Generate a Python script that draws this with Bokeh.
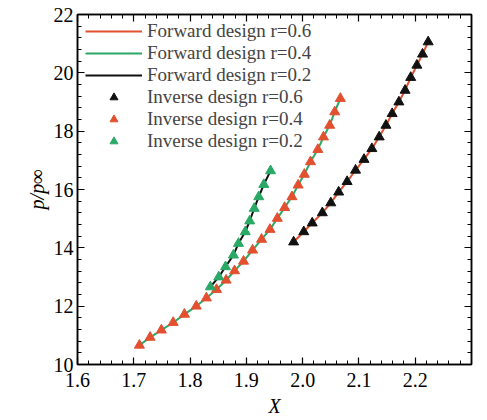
from bokeh.plotting import figure
from bokeh.models import (Legend, LegendItem, LinearAxis, SingleIntervalTicker,
                          PrintfTickFormatter, Range1d)
from bokeh.embed import file_html
from bokeh.resources import INLINE

# ---- data ----
x_r06 = [1.984, 2.002, 2.017, 2.035, 2.050, 2.064, 2.079, 2.094, 2.109, 2.123,
         2.136, 2.148, 2.159, 2.171, 2.182, 2.192, 2.203, 2.213, 2.223]
y_r06 = [14.20, 14.55, 14.85, 15.20, 15.54, 15.91, 16.27, 16.66, 17.03, 17.40,
         17.80, 18.20, 18.60, 19.00, 19.40, 19.84, 20.26, 20.64, 21.06]

x_r04 = [1.710, 1.729, 1.749, 1.770, 1.790, 1.811, 1.829, 1.847, 1.864, 1.879,
         1.895, 1.911, 1.927, 1.942, 1.955, 1.968, 1.981, 1.992, 2.003, 2.014,
         2.027, 2.037, 2.048, 2.057, 2.067]
y_r04 = [10.66, 10.93, 11.18, 11.44, 11.72, 12.00, 12.28, 12.57, 12.89, 13.21,
         13.54, 13.92, 14.29, 14.63, 15.01, 15.38, 15.75, 16.15, 16.52, 16.95,
         17.37, 17.80, 18.20, 18.66, 19.12]

x_r02 = [1.836, 1.851, 1.863, 1.877, 1.886, 1.898, 1.906, 1.914, 1.922, 1.931, 1.943]
y_r02 = [12.66, 13.00, 13.35, 13.75, 14.15, 14.55, 14.92, 15.35, 15.75, 16.17, 16.64]

forward_labels = ["Forward design r=0.6", "Forward design r=0.4", "Forward design r=0.2"]
inverse_labels = ["Inverse design r=0.6", "Inverse design r=0.4", "Inverse design r=0.2"]
x_label = "X"
y_label = "p/p\u221e"

FONT = "Liberation Serif"
RED = "#e2502f"
GREEN = "#2aa866"
BLACK = "#111111"
FS = "20px"

p = figure(width=486, height=420, x_range=Range1d(1.6, 2.3), y_range=Range1d(10, 22),
           output_backend="svg", toolbar_location=None,
           min_border_left=77, min_border_right=15, min_border_top=14, min_border_bottom=56)
p.grid.visible = False
p.outline_line_color = "black"
p.outline_line_width = 1.5
p.background_fill_color = "white"
p.border_fill_color = "white"

bottom = p.xaxis[0]
left = p.yaxis[0]
bottom.ticker = SingleIntervalTicker(interval=0.1, num_minor_ticks=5)
bottom.formatter = PrintfTickFormatter(format="%.1f")
bottom.major_label_standoff = 8
bottom.axis_label = x_label
bottom.axis_label_standoff = 5
left.ticker = SingleIntervalTicker(interval=2, num_minor_ticks=5)
left.axis_label = y_label
left.axis_label_standoff = 3
left.major_label_standoff = 4

top = LinearAxis(ticker=SingleIntervalTicker(interval=0.1, num_minor_ticks=5),
                 major_label_text_font_size="0px", major_label_text_color=None,
                 major_label_standoff=0)
right = LinearAxis(ticker=SingleIntervalTicker(interval=2, num_minor_ticks=5),
                   major_label_text_font_size="0px", major_label_text_color=None,
                   major_label_standoff=0)
p.add_layout(top, "above")
p.add_layout(right, "right")

for ax in [bottom, left, top, right]:
    ax.axis_line_color = "black"
    ax.axis_line_width = 1.5
    ax.major_tick_in = 7
    ax.major_tick_out = 0
    ax.minor_tick_in = 4
    ax.minor_tick_out = 0
    ax.major_tick_line_color = "black"
    ax.minor_tick_line_color = "black"
    ax.major_tick_line_width = 1.2
    ax.minor_tick_line_width = 1
for ax in [bottom, left]:
    ax.major_label_text_font = FONT
    ax.major_label_text_font_size = FS
    ax.major_label_text_color = "black"
    ax.axis_label_text_font = FONT
    ax.axis_label_text_font_size = FS
    ax.axis_label_text_font_style = "italic"
    ax.axis_label_text_color = "black"

# forward design lines
l06 = p.line(x_r06, y_r06, line_color=RED, line_width=2)
l04 = p.line(x_r04, y_r04, line_color=GREEN, line_width=2)
l02 = p.line(x_r02, y_r02, line_color=BLACK, line_width=2)
# inverse design markers
m06 = p.scatter(x_r06, y_r06, marker="triangle", size=10, fill_color=BLACK, line_color=BLACK)
m04 = p.scatter(x_r04, y_r04, marker="triangle", size=10, fill_color=RED, line_color=RED)
m02 = p.scatter(x_r02, y_r02, marker="triangle", size=10, fill_color=GREEN, line_color=GREEN)

items = [LegendItem(label=forward_labels[0], renderers=[l06]),
         LegendItem(label=forward_labels[1], renderers=[l04]),
         LegendItem(label=forward_labels[2], renderers=[l02]),
         LegendItem(label=inverse_labels[0], renderers=[m06]),
         LegendItem(label=inverse_labels[1], renderers=[m04]),
         LegendItem(label=inverse_labels[2], renderers=[m02])]
legend = Legend(items=items, location=(8, 212), border_line_color=None,
                background_fill_alpha=0, label_text_font=FONT, label_text_font_size="19px",
                glyph_width=57, glyph_height=20, label_height=21, spacing=-1,
                padding=8, margin=0, label_standoff=5)
p.add_layout(legend)

open("out.html", "w").write(file_html(p, INLINE))
